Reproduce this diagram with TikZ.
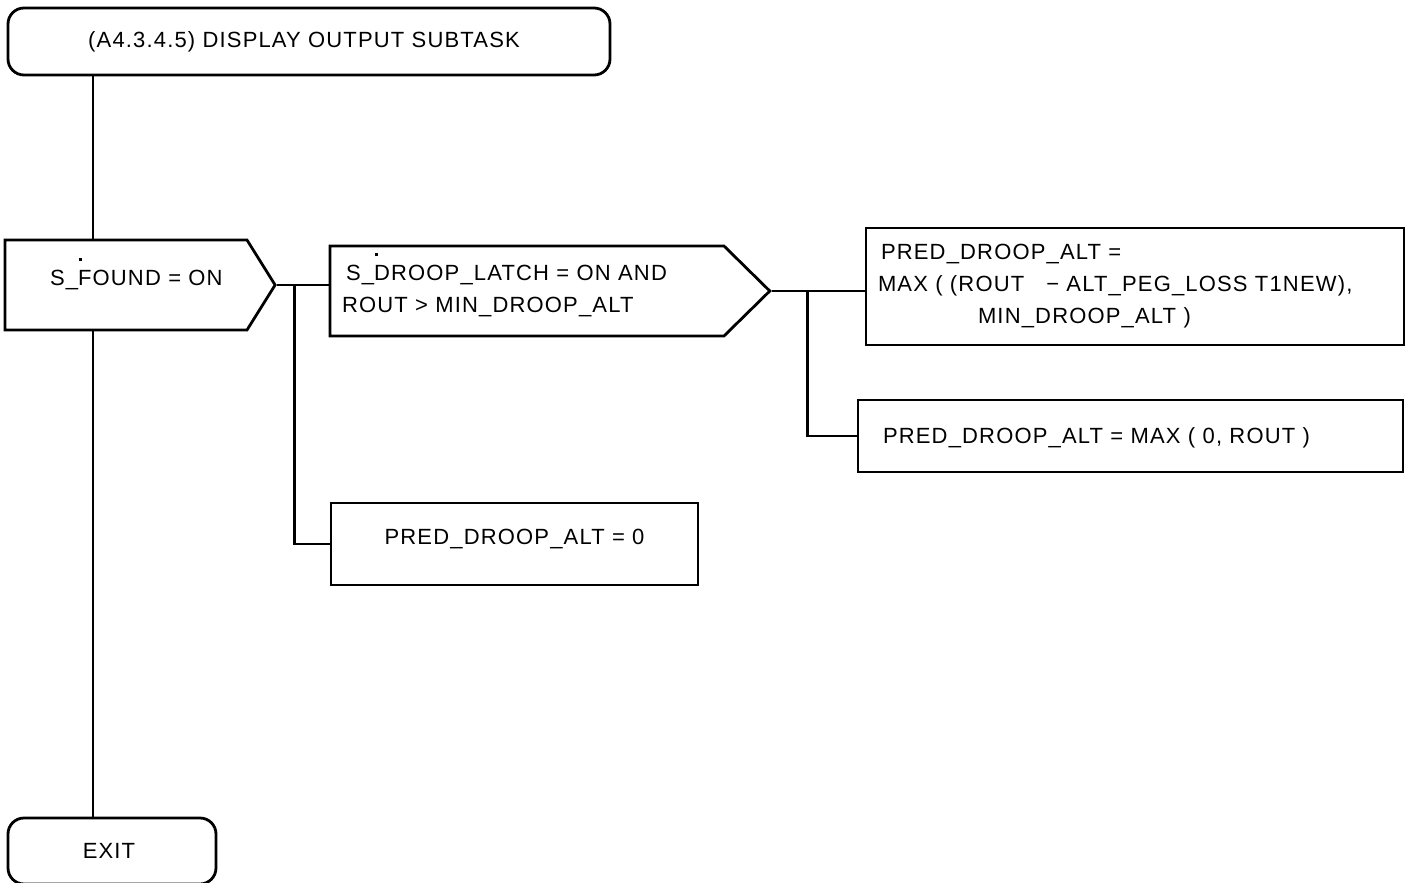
\documentclass[tikz,border=0pt]{standalone}
\usepackage{fontspec}
\setmainfont{Liberation Sans}[LetterSpace=5.3]
\usetikzlibrary{shapes.symbols, calc}
\tikzset{
    terminal/.style={draw, line width=2.8pt, rounded corners=16pt, minimum height=67pt, inner sep=0pt},
    decisao/.style={draw, line width=2.8pt, shape=signal, signal to=east, minimum height=90pt, inner xsep=12pt, inner ysep=0pt},
    acao/.style={draw, line width=2.8pt, rectangle, inner xsep=12pt, inner ysep=0pt},
    ligacao/.style={line width=2.8pt}
}
\newcommand\pontinho[1]{\makebox[0pt][l]{\hspace{0.02em}\smash{\raisebox{1.1em}{\rule{0.15em}{0.15em}}}}#1}

\begin{document}
\begin{tikzpicture}[x=1pt, y=-1pt, font=\fontsize{22}{32}\selectfont]
    \useasboundingbox (0,0) rectangle (1409,883);
    % Inicio e fim
    \node[terminal, minimum width=602pt] (inicio) at (309,41.5) {(A4.3.4.5) DISPLAY OUTPUT SUBTASK\hspace*{10pt}};
    \node[terminal, minimum width=208pt, minimum height=66pt] (saida) at (112,851) {EXIT\hspace*{6pt}};
    % Decisoes
    \node[decisao, signal pointer angle=116, text width=218pt, align=left, text depth=14pt] (found) at (126,285)
        {\hspace*{33pt}S\_\pontinho{F}OUND = ON};
    \node[decisao, signal pointer angle=89, text width=370pt, align=left] (droop) at (527,291)
        {\hspace*{4pt}S\_\pontinho{D}ROOP\_LATCH = ON AND\\ROUT > MIN\_DROOP\_ALT};
    % Acoes
    \node[acao, minimum width=538pt, minimum height=117pt, text width=514pt, align=left] (maxrout) at (1135,286.5)
        {\hspace*{3pt}PRED\_DROOP\_ALT =\\MAX ( (ROUT\ \ \ − ALT\_PEG\_LOSS T1NEW),\\\hspace*{100pt}MIN\_DROOP\_ALT )};
    \node[acao, inner xsep=25pt, minimum width=545pt, minimum height=72pt, text width=495pt, align=left, text depth=0pt] (maxzero) at (1130.5,436)
        {PRED\_DROOP\_ALT = MAX ( 0, ROUT )};
    \node[acao, minimum width=367pt, minimum height=82pt, text depth=14pt] (zero) at (514.5,544) {PRED\_DROOP\_ALT = 0};
    % Ligacoes
    \coordinate (tronco) at (93,0);
    \draw[ligacao] (inicio.south -| tronco) -- (found.north -| tronco);
    \draw[ligacao] (found.south -| tronco) -- (saida.north -| tronco);
    \draw[ligacao] (found.east) -- (found.east -| droop.west);
    \coordinate (ramo1) at ($(found.east)+(18,0)$);
    \draw[ligacao] (ramo1) |- (zero.west);
    \draw[ligacao] (droop.east) -- (droop.east -| maxrout.west);
    \coordinate (ramo2) at ($(droop.east)+(36,0)$);
    \draw[ligacao] (ramo2) |- (maxzero.west);
\end{tikzpicture}
\end{document}
